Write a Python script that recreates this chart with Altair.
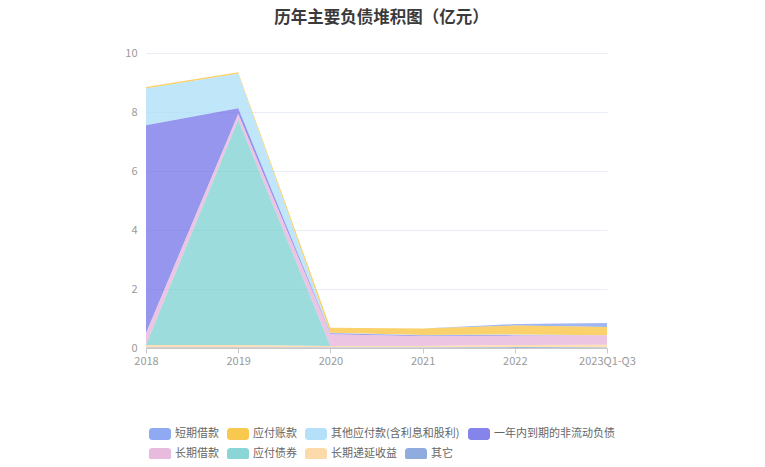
import altair as alt
import pandas as pd

years = ["2018", "2019", "2020", "2021", "2022", "2023Q1-Q3"]
legend_order = ["短期借款", "应付账款", "其他应付款(含利息和股利)", "一年内到期的非流动负债",
                "长期借款", "应付债券", "长期递延收益", "其它"]
colors = ["#7B9BF0", "#F8BF30", "#A7DCF8", "#6E6EE8", "#E4AED8", "#76CFCF", "#FDD39A", "#7D9ED8"]
# stack position (0 = bottom)
stack_rank = [7, 6, 5, 4, 3, 2, 1, 0]

short_loan = [0.00, 0.00, 0.00, 0.00, 0.05, 0.14]
payable = [0.05, 0.05, 0.17, 0.22, 0.30, 0.28]
other_payable = [1.25, 1.17, 0.02, 0.02, 0.02, 0.00]
current_noncurrent = [7.05, 0.20, 0.03, 0.02, 0.02, 0.00]
long_loan = [0.40, 0.20, 0.40, 0.33, 0.32, 0.32]
bonds = [0.00, 7.63, 0.00, 0.00, 0.00, 0.00]
deferred = [0.08, 0.08, 0.05, 0.05, 0.07, 0.09]
others = [0.02, 0.02, 0.02, 0.02, 0.03, 0.02]

series = [short_loan, payable, other_payable, current_noncurrent, long_loan, bonds, deferred, others]

rows = []
for name, vals, rank in zip(legend_order, series, stack_rank):
    for y, v in zip(years, vals):
        rows.append({"year": y, "name": name, "value": v, "rank": rank})
df = pd.DataFrame(rows)

sym = ("M-0.5,-1H2.167A0.5,0.5,0,0,1,2.667,-0.5V0.5A0.5,0.5,0,0,1,2.167,1H-0.5"
       "A0.5,0.5,0,0,1,-1,0.5V-0.5A0.5,0.5,0,0,1,-0.5,-1Z")

font = "Noto Sans CJK SC"

row1, row2 = legend_order[:4], legend_order[4:]
col1, col2 = colors[:4], colors[4:]


def leg(y):
    return alt.Legend(title=None, orient="none", legendX=3, legendY=y,
                      direction="horizontal", columns=4,
                      symbolType=sym, symbolSize=144, symbolOpacity=0.85,
                      symbolStrokeWidth=0, labelOffset=14, columnPadding=8,
                      labelFontSize=11, labelColor="#666666", labelFont=font)


x_enc = alt.X("year:O", sort=years, scale=alt.Scale(type="point", padding=0),
              axis=alt.Axis(title=None, labelAngle=0, domainColor="#C8C8C8", tickColor="#C8C8C8",
                            tickSize=5, labelColor="#9A9A9A", labelFontSize=11, labelPadding=2,
                            labelFont=font))
y_enc = alt.Y("y0:Q", scale=alt.Scale(domain=[0, 10]),
              axis=alt.Axis(title=None, values=[0, 2, 4, 6, 8, 10], domain=False, ticks=False,
                            gridColor="#E8ECF4", labelColor="#9A9A9A", labelFontSize=11,
                            labelPadding=9, labelFont=font))

base = alt.Chart(df).transform_stack(
    stack="value", groupby=["year"], as_=["y0", "y1"],
    sort=[alt.SortField("rank", order="ascending")],
)

layer1 = base.transform_filter(alt.FieldOneOfPredicate(field="name", oneOf=row1)).mark_area(
    fillOpacity=0.72).encode(
    x=x_enc, y=y_enc, y2="y1:Q",
    fill=alt.Fill("name:N", scale=alt.Scale(domain=row1, range=col1), legend=leg(375)),
)
layer2 = base.transform_filter(alt.FieldOneOfPredicate(field="name", oneOf=row2)).mark_area(
    fillOpacity=0.72).encode(
    x=x_enc, y=y_enc, y2="y1:Q",
    fill=alt.Fill("name:N", scale=alt.Scale(domain=row2, range=col2), legend=leg(395)),
)

chart = alt.layer(layer1, layer2).resolve_scale(fill="independent").resolve_legend(
    fill="independent"
).properties(
    width=461, height=295,
    title=alt.TitleParams("历年主要负债堆积图（亿元）", anchor="middle", frame="group",
                          fontSize=16.5, fontWeight="bold", color="#3A3A3A", font=font,
                          offset=21, dx=5),
    autosize=alt.AutoSizeParams(type="none"),
    padding={"left": 138, "top": 45, "right": 150, "bottom": 111},
).configure_view(stroke=None)

chart.save("out.html", embed_options={"renderer": "svg", "actions": False})
